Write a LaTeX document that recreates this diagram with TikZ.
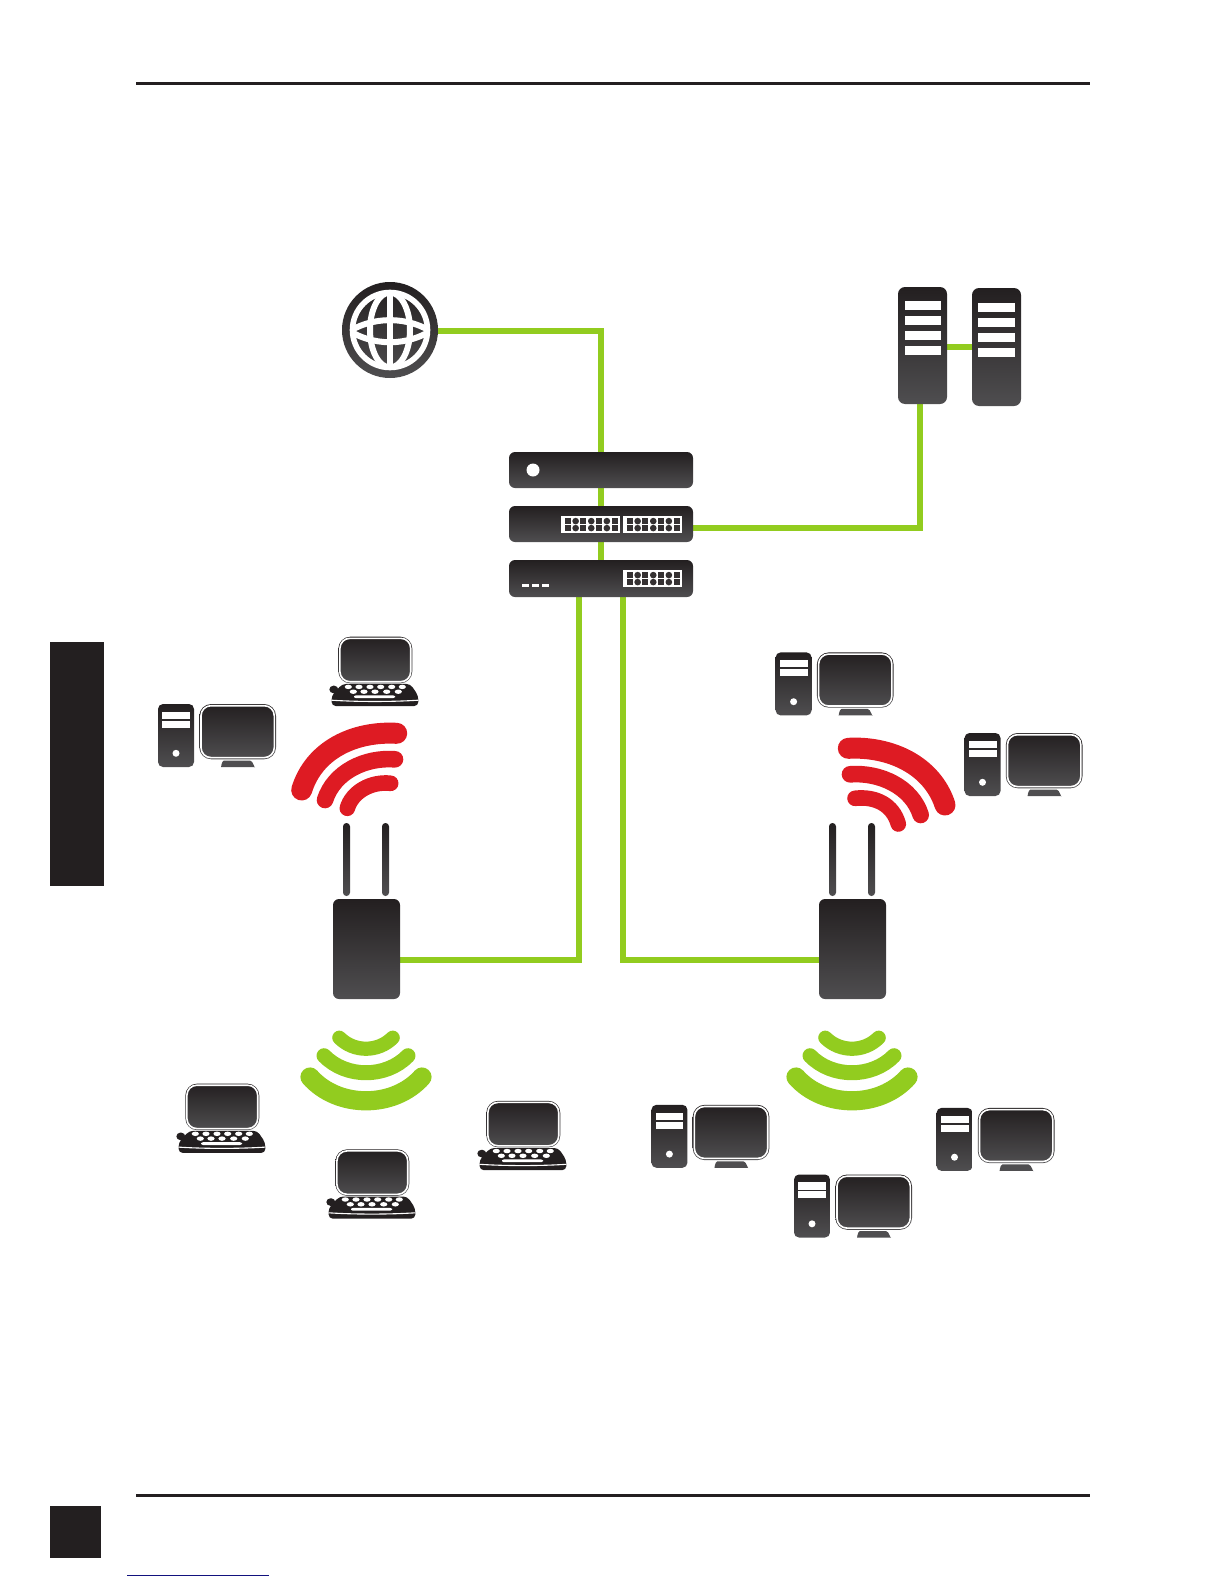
\documentclass[tikz,border=0pt]{standalone}
\usetikzlibrary{backgrounds}
\definecolor{devtop}{HTML}{231F20}
\definecolor{devbot}{HTML}{4F4E50}
\definecolor{netgreen}{HTML}{92CC1F}
\definecolor{wifired}{HTML}{DE1B23}
\definecolor{rulink}{HTML}{12127E}
\tikzset{
  dev/.style={rectangle,inner sep=0pt,outer sep=0pt,rounded corners=3pt,top color=devtop,bottom color=devbot,minimum width=#1},
  dev/.default=92pt,
  devshade/.style={top color=devtop,bottom color=devbot},
  link/.style={draw=netgreen,line width=3pt},
  wave/.style={draw=#1,line cap=round,fill=none},
  ports/.pic={
    \fill[white] (0,0) rectangle (59,17);
    \foreach \c in {0,...,6}{
      \foreach \r in {0,1}{
        \pgfmathparse{int(mod(\c,2))}
        \ifnum\pgfmathresult=0
          \fill[devtop!92!white] (3.8+7.8*\c,2) ++(0,7*\r) rectangle ++(6,6);
        \else
          \fill[devtop!92!white,rounded corners=1.5pt] (3.6+7.8*\c,1.9) ++(0,7*\r) rectangle ++(6.5,6.4);
        \fi
      }
    }
  },
  pcicon/.pic={
    \path[devshade,rounded corners=2.5pt] (0,0) rectangle (36,63);
    \fill[white] (4.3,7.7) rectangle (32,15);
    \fill[white] (4.3,16.7) rectangle (32,23.7);
    \fill[white] (18,49.3) circle [radius=3.5];
    \path[devshade,rounded corners=6pt] (41.3,0) rectangle (118,55.3);
    \draw[white,line width=0.8pt,rounded corners=5pt] (43,1.7) rectangle (116.3,53.6);
    \fill[devbot] (66,56.5) -- (92,56.5) to[out=0,in=-90] (97,63) -- (63,63) to[out=-90,in=180] (66,56.5) -- cycle;
  },
  laptopicon/.pic={
    \path[devshade,rounded corners=6pt] (0,0) rectangle (74,46.6);
    \draw[white,line width=0.8pt,rounded corners=5pt] (1.6,1.6) rectangle (72.4,45);
    \fill[devtop,rounded corners=2pt] (-9,49) rectangle (0,56.5);
    \fill[devtop,rounded corners=2pt] (4,47.2) -- (72,47.2) -- (80,59) -- (80,69.3) -- (-6.6,69.3) -- (-6.8,59) -- cycle;
    \draw[white,line width=0.55pt] (-6.8,63.5) .. controls (20,65.2) and (53,65.2) .. (80,63.5);
    \foreach \kx in {10,20.7,31.7,42.4,53.4,64}{
      \fill[white] (\kx,50.2) ellipse [x radius=3.6,y radius=2.2];
    }
    \foreach \kx in {15,25.7,36.7,48.4,60}{
      \fill[white] (\kx,55) ellipse [x radius=3.6,y radius=2.2];
    }
    \fill[white,rounded corners=1pt] (15.7,58.6) rectangle (56.7,61.4);
  },
  wavegreen/.pic={
    \draw[wave=netgreen,line width=7.1pt] (-26.7,0) .. controls (-12,14.7) and (12,14.7) .. (26.7,0);
    \draw[wave=netgreen,line width=7.5pt] (-42,18) .. controls (-20,40.7) and (20,40.7) .. (42,18);
    \draw[wave=netgreen,line width=9.6pt] (-56,39.3) .. controls (-28,71) and (28,71) .. (56,39.3);
  },
}
\begin{document}
\begin{tikzpicture}[x=0.5pt,y=-0.5pt]
\useasboundingbox (0,0) rectangle (1224,1584);
% page furniture
\fill[devtop] (136,82.5) rectangle (1090,85.5);
\fill[devtop] (136,1494) rectangle (1090,1497);
\fill[devtop] (49.5,642) rectangle (104,886);
\fill[devtop] (49.5,1506) rectangle (101,1558);
\fill[rulink] (127,1574.6) rectangle (268.7,1576);
% devices
\node[circle,inner sep=0pt,outer sep=0pt,minimum size=48pt,top color=devtop,bottom color=devbot] (globe) at (390,330) {};
\begin{scope}
  \clip (390,330) circle [radius=37.5];
  \draw[white,line width=3pt] (390,285) -- (390,375);
  \draw[white,line width=3pt] (390,330) ellipse [x radius=20,y radius=37.5];
  \draw[white,line width=3pt] (345,334) .. controls (372,315.5) and (408,315.5) .. (435,334);
  \draw[white,line width=3pt] (345,328) .. controls (372,347) and (408,347) .. (435,328);
\end{scope}
\draw[white,line width=2.8pt] (390,330) circle [radius=37.5];

\node[dev,minimum height=18pt] (router) at (601,470) {};
\fill[white] (533,470) circle [radius=6.5];
\node[dev,minimum height=18pt] (switchA) at (601,524) {};
\pic at (561,516) {ports};
\pic at (623,516) {ports};
\node[dev,minimum height=18.5pt] (switchB) at (601,578.5) {};
\pic at (623,570) {ports};
\foreach \dx in {522,532,542}{\fill[white] (\dx,584) rectangle ++(6.5,3);}

\node[dev=24.5pt,minimum height=58.5pt,rounded corners=3.5pt] (srvA) at (922.5,345.5) {};
\foreach \sy in {301,316,331,346}{\fill[white] (905,\sy) rectangle (941,\sy+9);}
\node[dev=24.5pt,minimum height=59pt,rounded corners=3.5pt] (srvB) at (996.5,347) {};
\foreach \sy in {303,318,333,348}{\fill[white] (978,\sy) rectangle (1015,\sy+9);}

\node[dev=33.5pt,minimum height=50pt] (apL) at (366.5,949) {};
\node[dev=33.5pt,minimum height=50pt] (apR) at (852.5,949) {};
\foreach \ax in {346.5,385.5,832.5,871.5}{
  \path[devshade,rounded corners=1.7pt] (\ax-3.5,823) rectangle (\ax+3.5,896);
}
% connector ends
\coordinate (upA) at (579,597);
\coordinate (upB) at (623,597);
\coordinate (apLport) at (400,960);
\coordinate (apRport) at (819,960);
\coordinate (srvDown) at (920,404);
\coordinate (swPort) at (693,528);
\coordinate (srvPortA) at (947,347);
\coordinate (srvPortB) at (972,347);
\coordinate (globePort) at (438,331);
\begin{scope}[on background layer]
  \draw[link] (globePort) -| (router.north);
  \draw[link] (router.south) -- (switchA.north);
  \draw[link] (switchA.south) -- (switchB.north);
  \draw[link] (swPort) -| (srvDown);
  \draw[link] (srvPortA) -- (srvPortB);
  \draw[link] (upA) |- (apLport);
  \draw[link] (upB) |- (apRport);
\end{scope}
% red waves
\draw[wave=wifired,line width=10.5pt] (301.7,790) .. controls (314,750) and (354,731) .. (396.7,733.3);
\draw[wave=wifired,line width=8.3pt] (325,800) .. controls (334,772) and (365,757) .. (395,759.3);
\draw[wave=wifired,line width=7.8pt] (347.3,808.3) .. controls (352,792) and (371,781) .. (390.7,783.3);
\draw[wave=wifired,line width=10.5pt] (848.3,748.3) .. controls (890,746) and (932,765) .. (945,805);
\draw[wave=wifired,line width=8.3pt] (850,774.3) .. controls (880,772) and (912,787) .. (920.7,815);
\draw[wave=wifired,line width=7.8pt] (855,798.3) .. controls (876,796) and (893,805) .. (898.3,824);
% green waves
\pic at (366,1037.7) {wavegreen};
\pic at (852,1037.7) {wavegreen};
% computers
\pic at (158,704) {pcicon};
\pic at (775.6,652.4) {pcicon};
\pic at (964.5,733) {pcicon};
\pic at (651.4,1104.8) {pcicon};
\pic at (936.5,1107.9) {pcicon};
\pic at (794,1174.5) {pcicon};
% laptops
\pic at (338.3,636.7) {laptopicon};
\pic at (185.3,1083.6) {laptopicon};
\pic at (335.3,1149.3) {laptopicon};
\pic at (486.3,1100.8) {laptopicon};
\end{tikzpicture}
\end{document}
